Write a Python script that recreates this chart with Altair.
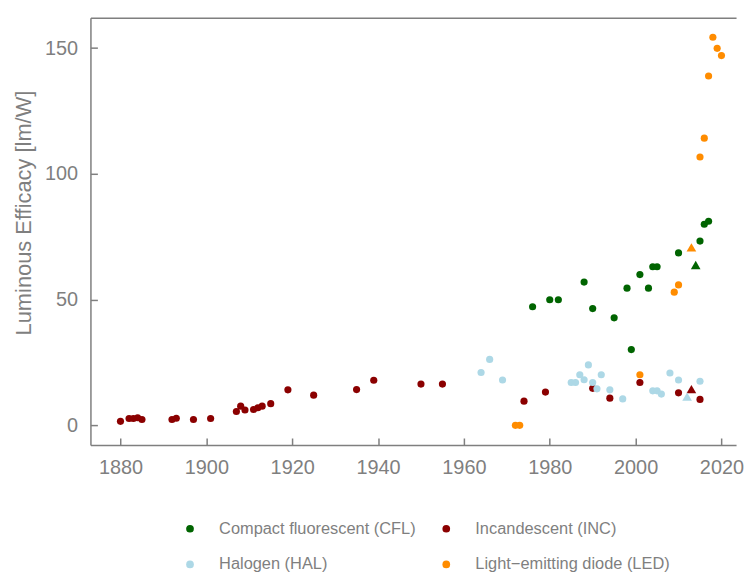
import altair as alt
import pandas as pd

# ---- data ----
cfl_years = [1976, 1980, 1982, 1988, 1990, 1995, 1998, 1999, 2001, 2003, 2004, 2005, 2010, 2015, 2016, 2017]
cfl_vals = [47.2, 50.0, 50.0, 57.0, 46.5, 42.8, 54.6, 30.2, 60.0, 54.6, 63.1, 63.1, 68.6, 73.3, 80.0, 81.2]

inc_years = [1880, 1882, 1883, 1884, 1885, 1892, 1893, 1897, 1901, 1907, 1908, 1909, 1911, 1912, 1913,
             1915, 1919, 1925, 1935, 1939, 1950, 1955, 1974, 1979, 1990, 1994, 2001, 2010, 2015]
inc_vals = [1.7, 2.8, 2.8, 3.1, 2.4, 2.4, 2.9, 2.4, 2.8, 5.6, 7.7, 6.2, 6.4, 7.1, 7.7,
            8.7, 14.2, 12.1, 14.3, 18.0, 16.5, 16.5, 9.7, 13.3, 14.8, 10.9, 17.1, 13.0, 10.4]

hal_years = [1964, 1966, 1969, 1985, 1986, 1987, 1988, 1989, 1990, 1991, 1992, 1994, 1997,
             2004, 2005, 2006, 2008, 2010, 2015]
hal_vals = [21.1, 26.3, 18.1, 17.1, 17.1, 20.2, 18.2, 24.1, 17.1, 14.6, 20.2, 14.2, 10.6,
            13.8, 13.8, 12.5, 20.9, 18.1, 17.6]

led_years = [1972, 1973, 2001, 2009, 2010, 2015, 2016, 2017, 2018, 2019, 2020]
led_vals = [0.1, 0.1, 20.2, 53.0, 55.9, 106.7, 114.2, 138.9, 154.3, 149.9, 147.0]

# triangles (not in legend)
tri_years = [2013, 2014, 2013, 2012]
tri_vals = [70.8, 63.8, 14.5, 11.5]
tri_techs = ["LED", "CFL", "INC", "HAL"]

tech_labels = {
    "CFL": "Compact fluorescent (CFL)",
    "INC": "Incandescent (INC)",
    "HAL": "Halogen (HAL)",
    "LED": "Light\u2212emitting diode (LED)",
}
tech_order = ["CFL", "INC", "HAL", "LED"]
tech_colors = ["#006400", "#8B0000", "#ADD8E6", "#FF8C00"]

x_ticks = [1880, 1900, 1920, 1940, 1960, 1980, 2000, 2020]
y_ticks = [0, 50, 100, 150]

rows = []
for key, ys, vs in [("CFL", cfl_years, cfl_vals), ("INC", inc_years, inc_vals),
                    ("HAL", hal_years, hal_vals), ("LED", led_years, led_vals)]:
    for yr, v in zip(ys, vs):
        rows.append({"year": yr, "efficacy": v, "tech": tech_labels[key], "marker": "circle"})
for yr, v, key in zip(tri_years, tri_vals, tri_techs):
    rows.append({"year": yr, "efficacy": v, "tech": tech_labels[key], "marker": "triangle"})
df = pd.DataFrame(rows)

GREY = "#7f7f7f"
FONT = "Liberation Sans"

xscale = alt.Scale(domain=[1873, 2023.4], nice=False, zero=False)
yscale = alt.Scale(domain=[-7.7, 162.0], nice=False, zero=False)
cscale = alt.Scale(domain=[tech_labels[k] for k in tech_order], range=tech_colors)

base = alt.Chart(df)

legend = alt.Legend(
    title=None, orient="none", legendX=92, legendY=506, columns=2, direction="horizontal",
    symbolType="circle", symbolSize=60, symbolStrokeWidth=0,
    labelFont=FONT, labelFontSize=16.5, labelColor=GREY, labelOffset=21, labelLimit=0,
    columnPadding=22, rowPadding=19, padding=0,
)

circles = base.transform_filter(alt.datum.marker == "circle").mark_circle(
    size=52, opacity=1
).encode(
    x=alt.X("year:Q", scale=xscale, axis=alt.Axis(
        values=x_ticks, format="d", title=None, grid=False,
        domain=True, domainColor=GREY, domainWidth=1.5,
        ticks=False, tickSize=0, labelPadding=13,
        labelFont=FONT, labelFontSize=20, labelColor=GREY)),
    y=alt.Y("efficacy:Q", scale=yscale, axis=alt.Axis(
        values=y_ticks, title="Luminous Efficacy [lm/W]", grid=False,
        domain=True, domainColor=GREY, domainWidth=1.5,
        ticks=False, tickSize=0, labelPadding=13,
        labelFont=FONT, labelFontSize=20, labelColor=GREY,
        titleFont=FONT, titleFontSize=22, titleColor=GREY, titleFontWeight="normal",
        titleX=-60, titleY=196, titleAlign="center", titleBaseline="alphabetic",
        titleAngle=270, titleLimit=0)),
    color=alt.Color("tech:N", scale=cscale, legend=legend),
)

triangles = base.transform_filter(alt.datum.marker == "triangle").mark_point(
    shape="triangle-up", filled=True, size=95, opacity=1
).encode(
    x=alt.X("year:Q", scale=xscale, axis=None),
    y=alt.Y("efficacy:Q", scale=yscale, axis=None),
    color=alt.Color("tech:N", scale=cscale, legend=legend),
)

# inward ticks (axes shifted into the panel)
tick_layer = base.mark_point(opacity=0).encode(
    x=alt.X("year:Q", scale=xscale, axis=alt.Axis(
        orient="bottom", offset=-7, values=x_ticks, title=None, grid=False,
        domain=False, labels=False, ticks=True, tickSize=7,
        tickColor=GREY, tickWidth=1.5)),
    y=alt.Y("efficacy:Q", scale=yscale, axis=alt.Axis(
        orient="left", offset=-7, values=y_ticks, title=None, grid=False,
        domain=False, labels=False, ticks=True, tickSize=7,
        tickColor=GREY, tickWidth=1.5)),
)

# top border of the panel
top_layer = base.mark_point(opacity=0).encode(
    x=alt.X("year:Q", scale=xscale, axis=alt.Axis(
        orient="top", title=None, grid=False, domain=True, domainColor=GREY,
        domainWidth=1.5, labels=False, ticks=False, tickSize=0)),
    y=alt.Y("efficacy:Q", scale=yscale, axis=None),
)

chart = alt.layer(circles, triangles, tick_layer, top_layer).resolve_axis(
    x="independent", y="independent"
).properties(
    width=650, height=430,
    padding={"left": 5, "top": 8, "right": 0, "bottom": 0},
).configure_view(stroke=None).configure_axis(
    titleFontSize=22, titleFont=FONT, titleColor=GREY, titleFontWeight="normal"
)

chart.save("out.html", embed_options={"renderer": "svg", "actions": False})
